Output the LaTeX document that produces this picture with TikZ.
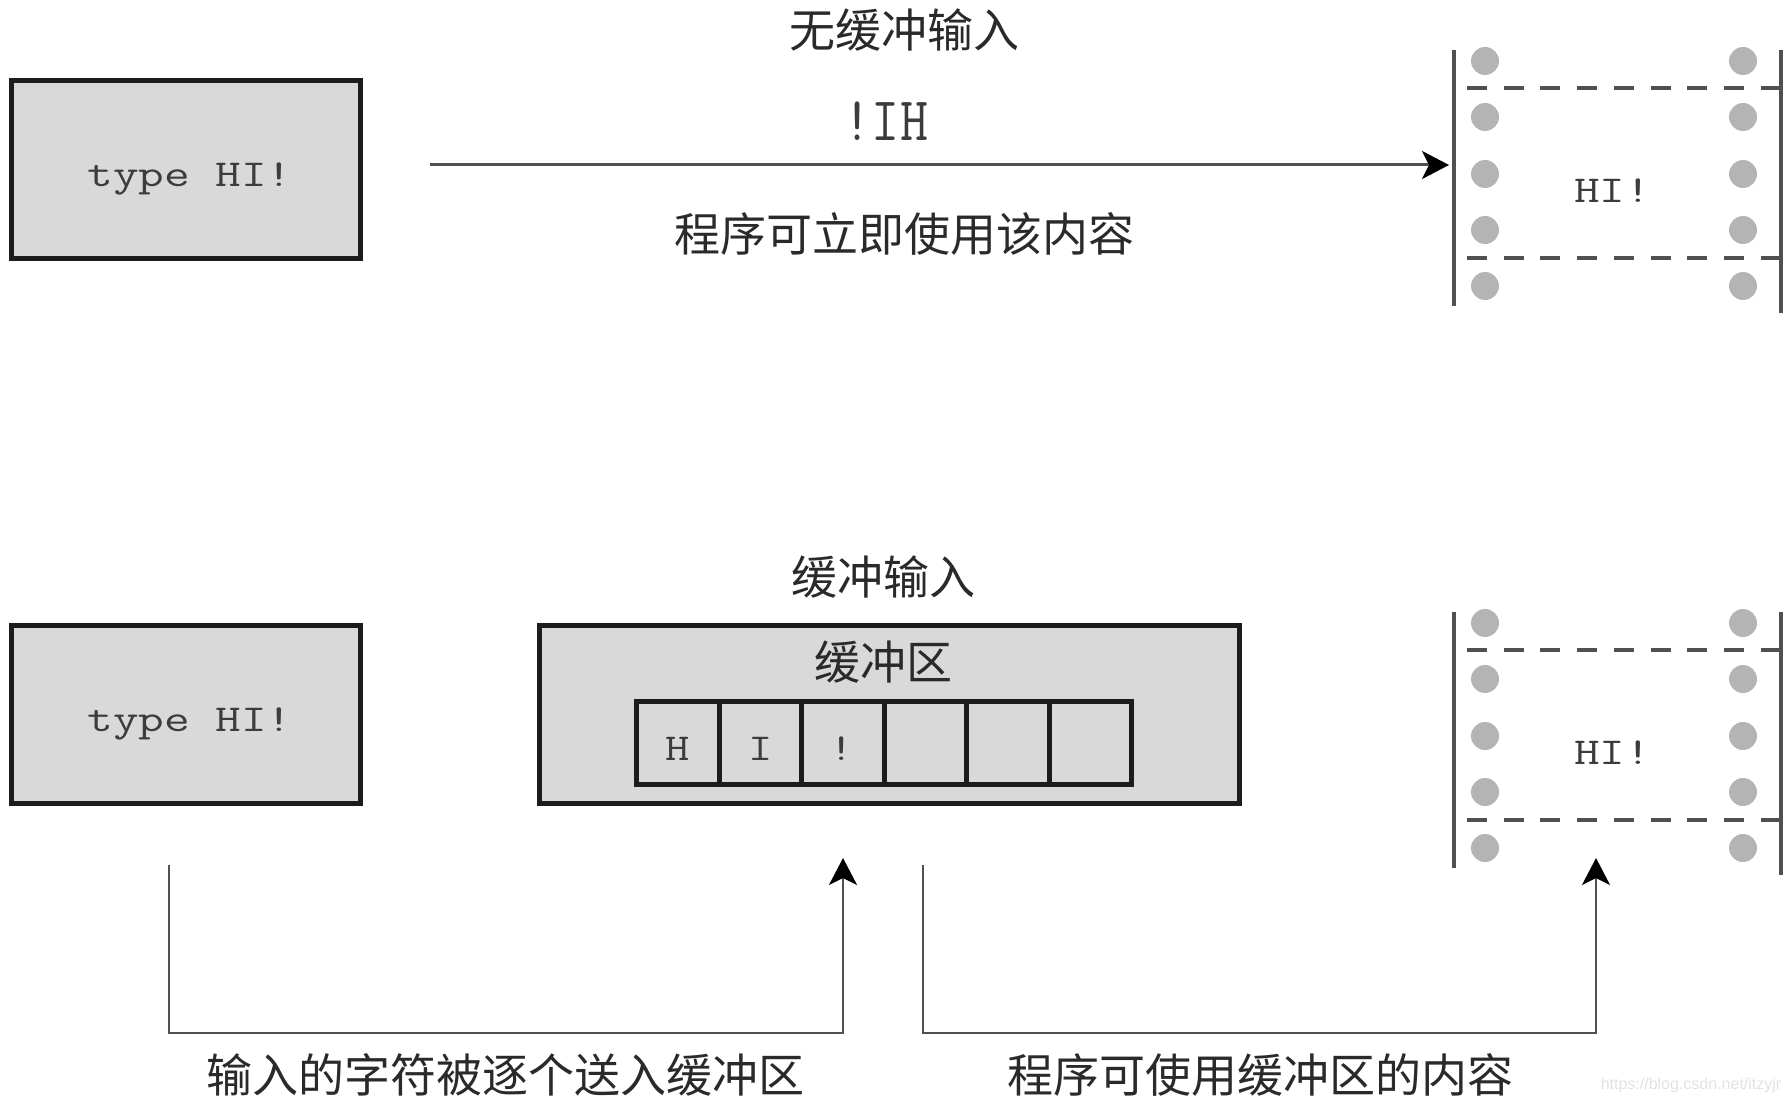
\documentclass[tikz,border=0pt]{standalone}
\usepackage{fontspec}
\setmainfont{Noto Sans CJK SC}
\newfontfamily\markfont{Liberation Sans}
\usepackage{tikz}
\usetikzlibrary{arrows.meta}
\definecolor{cBox}{HTML}{D9D9D9}
\definecolor{cEdge}{HTML}{1C1C1C}
\definecolor{cLine}{HTML}{505050}
\definecolor{cDot}{HTML}{B4B4B4}
\definecolor{cText}{HTML}{2A2A2A}
\definecolor{cMono}{HTML}{3C3C3C}
\definecolor{cMark}{HTML}{E2E2E2}
\tikzset{
  box/.style   = {rectangle, draw=cEdge, fill=cBox, line width=5pt, outer sep=0pt},
  cell/.style  = {box, minimum width=82.5pt, minimum height=83pt, inner sep=0pt},
  lab/.style   = {font=\fontsize{46}{46}\selectfont, text=cText, inner sep=0pt},
  mono/.style  = {font=\fontsize{38}{38}\ttfamily, text=cMono, xscale=1.31, inner sep=0pt},
  tall/.style  = {font=\fontsize{62}{62}\ttfamily, text=cMono, xscale=0.88, inner sep=0pt},
  fl/.style    = {-{Stealth[length=27pt, width=28pt, inset=7pt, color=black]}, draw=cLine, line width=3pt},
  side/.style  = {draw=cLine, line width=3.5pt},
  perf/.style  = {draw=cLine, line width=3.5pt, dash pattern=on 20pt off 16.7pt},
}
\newcommand{\tapeview}[2]{%
  \begin{scope}[shift={(0,#1)}]
    \draw[side] (1454,50) -- (1454,306);
    \draw[side, line width=4pt] (1781,50) -- (1781,313);
    \draw[perf] (1467,88) -- (1781,88);
    \draw[perf] (1467,258) -- (1781,258);
    \foreach \y in {61,117,174,230,286} {
      \fill[cDot] (1485,\y) circle (14);
      \fill[cDot] (1743,\y) circle (14);
    }
    \node[mono] (#2) at (1612.5,191) {HI!};
  \end{scope}}

\begin{document}
\begin{tikzpicture}[x=1pt, y=-1pt]
  \useasboundingbox (0,0) rectangle (1790,1102);

  % top row
  \node[lab] (titleA) at (904,30) {无缓冲输入};
  \node[box, minimum width=349pt, minimum height=178pt] (termA) at (185.5,169.5) {};
  \node[mono] (typeA) at (190,179) {type HI!};
  \node[tall] (back) at (886,121) {!IH};
  \node[lab] (useA) at (904,234) {程序可立即使用该内容};
  \tapeview{0}{hiA}
  \coordinate (fromA) at (430,165);
  \coordinate (toA) at (1449,165);
  \draw[fl] (fromA) -- (toA);

  % bottom row
  \node[lab] (titleB) at (883,577) {缓冲输入};
  \node[box, minimum width=349pt, minimum height=178pt] (termB) at (185.5,714) {};
  \node[mono] (typeB) at (190,723.5) {type HI!};
  \node[box, minimum width=700pt, minimum height=178pt] (buf) at (889,714) {};
  \node[lab] (bufname) at (883,662) {缓冲区};
  \foreach \i/\x in {1/678,2/760.5,3/843,4/925.5,5/1008,6/1090.5}
    \node[cell] (c\i) at (\x,742.5) {};
  \node[mono, xscale=0.95] (letH) at (678,749) {H};
  \node[mono, xscale=0.95] (letI) at (761,749) {I};
  \node[mono, xscale=0.95] (letX) at (842,749) {!};
  \tapeview{562}{hiB}

  \coordinate (inL) at (169,865);
  \coordinate (inR) at (843,858);
  \coordinate (outL) at (923,865);
  \coordinate (outR) at (1596,858);
  \draw[fl, line width=2.5pt] (inL) |- (843,1033) -- (inR);
  \draw[fl, line width=2.5pt] (outL) |- (1596,1033) -- (outR);

  \node[lab] (sendlab) at (505,1075) {输入的字符被逐个送入缓冲区};
  \node[lab] (uselab) at (1260,1075) {程序可使用缓冲区的内容};
  \node[font=\markfont\fontsize{16}{16}\selectfont, text=cMark, inner sep=0pt] (mark) at (1691,1085) {https://blog.csdn.net/itzyjr};
\end{tikzpicture}
\end{document}
